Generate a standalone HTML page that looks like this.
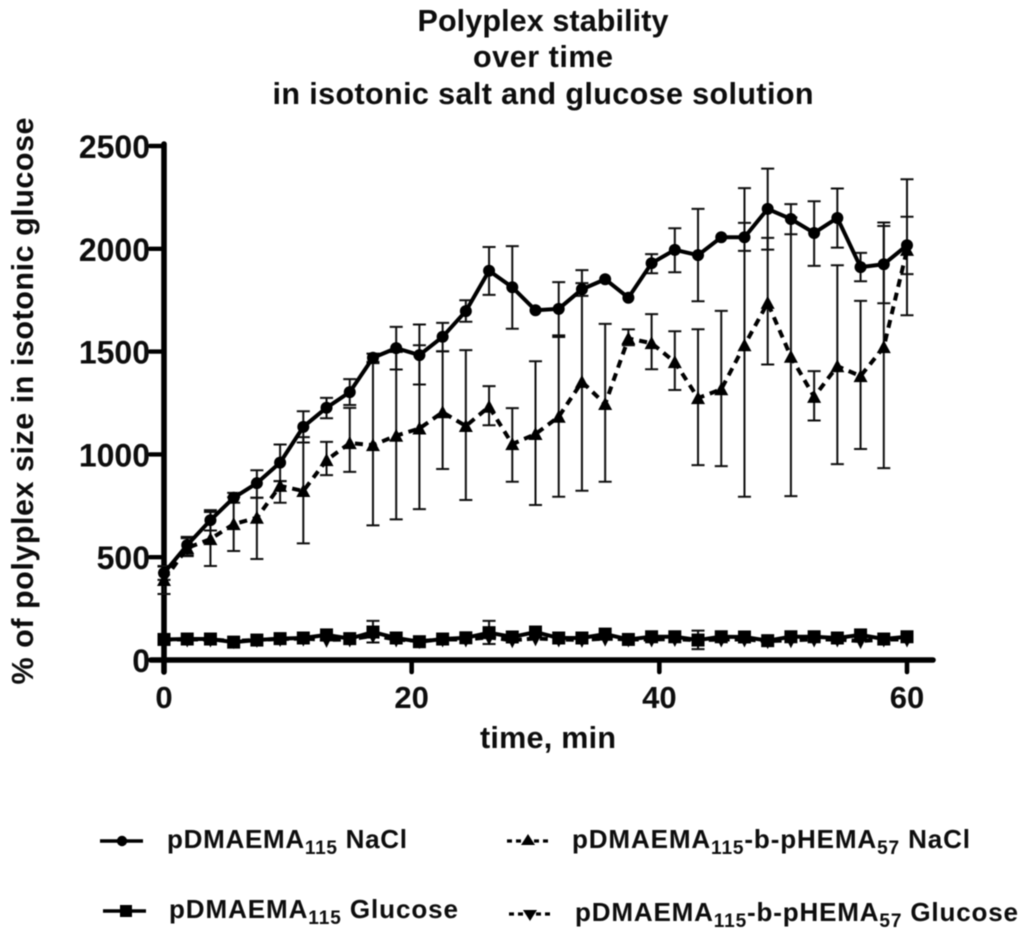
<!DOCTYPE html>
<html lang="en">
<head>
<meta charset="utf-8">
<title>Polyplex stability over time</title>
<style>
html,body{margin:0;padding:0;background:#fff;width:1024px;height:935px;overflow:hidden}
svg{display:block}
text{font-family:"Liberation Sans",Arial,sans-serif;font-weight:bold;fill:#0a0a0a}
</style>
</head>
<body>
<svg id="chart" xmlns="http://www.w3.org/2000/svg" width="1024" height="935" viewBox="0 0 1024 935">
<defs><filter id="soft" x="-5%" y="-5%" width="110%" height="110%"><feGaussianBlur stdDeviation="0.65"/></filter></defs>
<rect width="1024" height="935" fill="#fff"/>
<g filter="url(#soft)">
<g>
<text x="543" y="31" text-anchor="middle" font-size="30.5" textLength="251">Polyplex stability</text>
<text x="543" y="67" text-anchor="middle" font-size="30.5" textLength="140">over time</text>
<text x="543" y="104" text-anchor="middle" font-size="30.5" textLength="541">in isotonic salt and glucose solution</text>
</g>
<text transform="translate(33,401) rotate(-90)" text-anchor="middle" font-size="30.5" textLength="567">% of polyplex size in isotonic glucose</text>
<text x="548" y="748" text-anchor="middle" font-size="30.5" textLength="136">time, min</text>
<g id="axes"></g>
<g id="plot"></g>
<g>
<g>
<line x1="100" y1="841" x2="143" y2="841" stroke="#000" stroke-width="3.4"/><circle cx="122" cy="841" r="5.2" fill="#000"/>
<text x="167" y="848" font-size="26" textLength="240">pDMAEMA<tspan font-size="19" dy="6">115</tspan><tspan dy="-6"> NaCl</tspan></text>
</g>
<g>
<line x1="103" y1="911" x2="146" y2="911" stroke="#000" stroke-width="3.4"/><rect x="120" y="905" width="12" height="12" fill="#000"/>
<text x="169" y="918" font-size="26" textLength="289">pDMAEMA<tspan font-size="19" dy="6">115</tspan><tspan dy="-6"> Glucose</tspan></text>
</g>
<g>
<line x1="507" y1="841" x2="550" y2="841" stroke="#000" stroke-width="3.2" stroke-dasharray="5 4"/><path d="M528 834l7 11h-14z" fill="#000"/>
<text x="572" y="848" font-size="26" textLength="398">pDMAEMA<tspan font-size="19" dy="6">115</tspan><tspan dy="-6">-b-pHEMA</tspan><tspan font-size="19" dy="6">57</tspan><tspan dy="-6"> NaCl</tspan></text>
</g>
<g>
<line x1="509" y1="914" x2="552" y2="914" stroke="#000" stroke-width="3.2" stroke-dasharray="5 4"/><path d="M530 921l7 -11h-14z" fill="#000"/>
<text x="575" y="921" font-size="26" textLength="443">pDMAEMA<tspan font-size="19" dy="6">115</tspan><tspan dy="-6">-b-pHEMA</tspan><tspan font-size="19" dy="6">57</tspan><tspan dy="-6"> Glucose</tspan></text>
</g>
</g>
</g>
</svg>
<script>
const times = [0,1.875,3.75,5.625,7.5,9.375,11.25,13.125,15,16.875,18.75,20.625,22.5,24.375,26.25,28.125,30,31.875,33.75,35.625,37.5,39.375,41.25,43.125,45,46.875,48.75,50.625,52.5,54.375,56.25,58.125,60];
const xTickLabels = [0,20,40,60];
const yTickLabels = [0,500,1000,1500,2000,2500];

const saltHomoMean = [423,559,680,789,860,960,1134,1227,1303,1470,1517,1483,1572,1697,1893,1813,1701,1708,1803,1852,1762,1930,1995,1969,2056,2056,2194,2145,2077,2150,1911,1925,2017];
const saltHomoUpper = [455,599,729,813,923,1048,1210,1275,1366,1490,1620,1632,1640,1750,2009,2013,null,1838,1833,null,null,1974,2100,2194,null,2126,2390,2217,2231,2293,1980,2128,2156];
const saltHomoLower = [390,505,630,765,789,870,1058,1176,1240,1450,1413,1340,1501,1645,1776,1611,null,1579,1771,null,null,1881,1886,1745,null,1990,1996,2071,1917,2006,1842,1735,1877];

const saltBlockMean = [389,545,588,661,692,847,822,972,1055,1045,1091,1126,1205,1138,1232,1050,1099,1183,1353,1245,1564,1541,1449,1274,1317,1531,1737,1475,1280,1429,1381,1522,1995];
const saltBlockUpper = [457,593,720,792,789,870,1084,1061,1226,1444,1498,1531,1502,1507,1332,1225,1453,1571,1896,1635,1608,1682,1599,1609,1698,2295,2053,2153,1405,1920,1747,2111,2338];
const saltBlockLower = [321,510,457,530,491,765,567,899,915,655,684,734,929,778,1142,867,754,794,823,867,1531,1414,1313,948,943,794,1437,797,1165,953,1026,933,1677];

const glucoseHomoMean = [100,102,102,87,97,104,107,122,104,136,107,89,102,108,133,112,136,107,107,126,100,113,113,97,113,112,94,113,113,107,122,102,113];
const glucoseHomoUpper = [null,null,null,null,null,null,null,null,null,190,null,null,null,null,190,null,null,null,null,null,null,null,null,143,null,null,null,null,null,null,null,null,null];
const glucoseHomoLower = [null,null,null,null,null,null,null,null,null,85,null,null,null,null,78,null,null,null,null,null,null,null,null,53,null,null,null,null,null,null,null,null,null];

const glucoseBlockMean = [100,100,100,92,98,102,104,98,100,118,100,92,100,100,110,96,105,100,98,104,100,100,102,96,100,100,92,96,100,100,92,100,100];

const svgNS = 'http://www.w3.org/2000/svg';
const axes = document.getElementById('axes');
const plot = document.getElementById('plot');

function xScale(t){ return 164 + t * (907 - 164) / 60; }
function yScale(v){ return 660 - v * (660 - 146) / 2500; }
function make(tag, attrs, parent){
  const el = document.createElementNS(svgNS, tag);
  for (const k in attrs) el.setAttribute(k, attrs[k]);
  parent.appendChild(el);
  return el;
}

const yAxisLine = make('line',{x1:164,y1:144,x2:164,y2:672,stroke:'#000','stroke-width':5.6,'stroke-linecap':'round'},axes);


const xAxisLine = make('line',{x1:151,y1:660,x2:933,y2:660,stroke:'#000','stroke-width':5.6,'stroke-linecap':'round'},axes);



yTickLabels.forEach(function(v){
  const y = yScale(v);
  const tick = make('line',{x1:150,y1:y,x2:164,y2:y,stroke:'#000','stroke-width':4.4,'stroke-linecap':'round'},axes);
  
  
  const label = make('text',{x:150,y:y+12,'text-anchor':'end','font-size':32},axes);
  
  
  label.textContent = v;
});
xTickLabels.forEach(function(t){
  const x = xScale(t);
  const tick = make('line',{x1:x,y1:660,x2:x,y2:672,stroke:'#000','stroke-width':4.6,'stroke-linecap':'round'},axes);
  
  
  const label = make('text',{x:x,y:708,'text-anchor':'middle','font-size':31},axes);
  
  
  label.textContent = t;
});

function drawErrors(upper, lower){
  times.forEach(function(t,i){
    if (upper[i] === null || lower[i] === null) return;
    const x = xScale(t), yU = yScale(upper[i]), yL = yScale(lower[i]);
    const bar = make('path',{d:'M'+(x-6.5)+' '+yU+'H'+(x+6.5)+'M'+x+' '+yU+'V'+yL+'M'+(x-6.5)+' '+yL+'H'+(x+6.5),fill:'none',stroke:'#111','stroke-width':2},plot);
    
    
  });
}
function drawLine(mean, name, dash){
  const pts = times.map(function(t,i){ return xScale(t)+','+yScale(mean[i]); }).join(' ');
  const attrs = {points:pts,fill:'none',stroke:'#000','stroke-width':4,'stroke-linejoin':'round'};
  if (dash) attrs['stroke-dasharray'] = dash;
  const line = make('polyline',attrs,plot);
  
  
}
function drawMarkers(mean, kind){
  times.forEach(function(t,i){
    const x = xScale(t), y = yScale(mean[i]);
    let m;
    if (kind === 'circle') m = make('circle',{cx:x,cy:y,r:6,fill:'#000'},plot);
    else if (kind === 'square') m = make('rect',{x:x-6.5,y:y-6.5,width:13,height:13,fill:'#000'},plot);
    else if (kind === 'up') m = make('path',{d:'M'+x+' '+(y-7)+'l7 13h-14z',fill:'#000'},plot);
    else m = make('path',{d:'M'+x+' '+(y+8)+'l6 -12h-12z',fill:'#000'},plot);
    
    
  });
}

drawErrors(saltBlockUpper, saltBlockLower);
drawErrors(saltHomoUpper, saltHomoLower);
drawErrors(glucoseHomoUpper, glucoseHomoLower);
drawLine(glucoseBlockMean, 'series-block-glucose-line', '8 5');
drawLine(saltBlockMean, 'series-block-nacl-line', '8 6');
drawLine(glucoseHomoMean, 'series-homo-glucose-line');
drawLine(saltHomoMean, 'series-homo-nacl-line');
drawMarkers(glucoseBlockMean, 'down');
drawMarkers(saltBlockMean, 'up');
drawMarkers(glucoseHomoMean, 'square');
drawMarkers(saltHomoMean, 'circle');
</script>
</body>
</html>
